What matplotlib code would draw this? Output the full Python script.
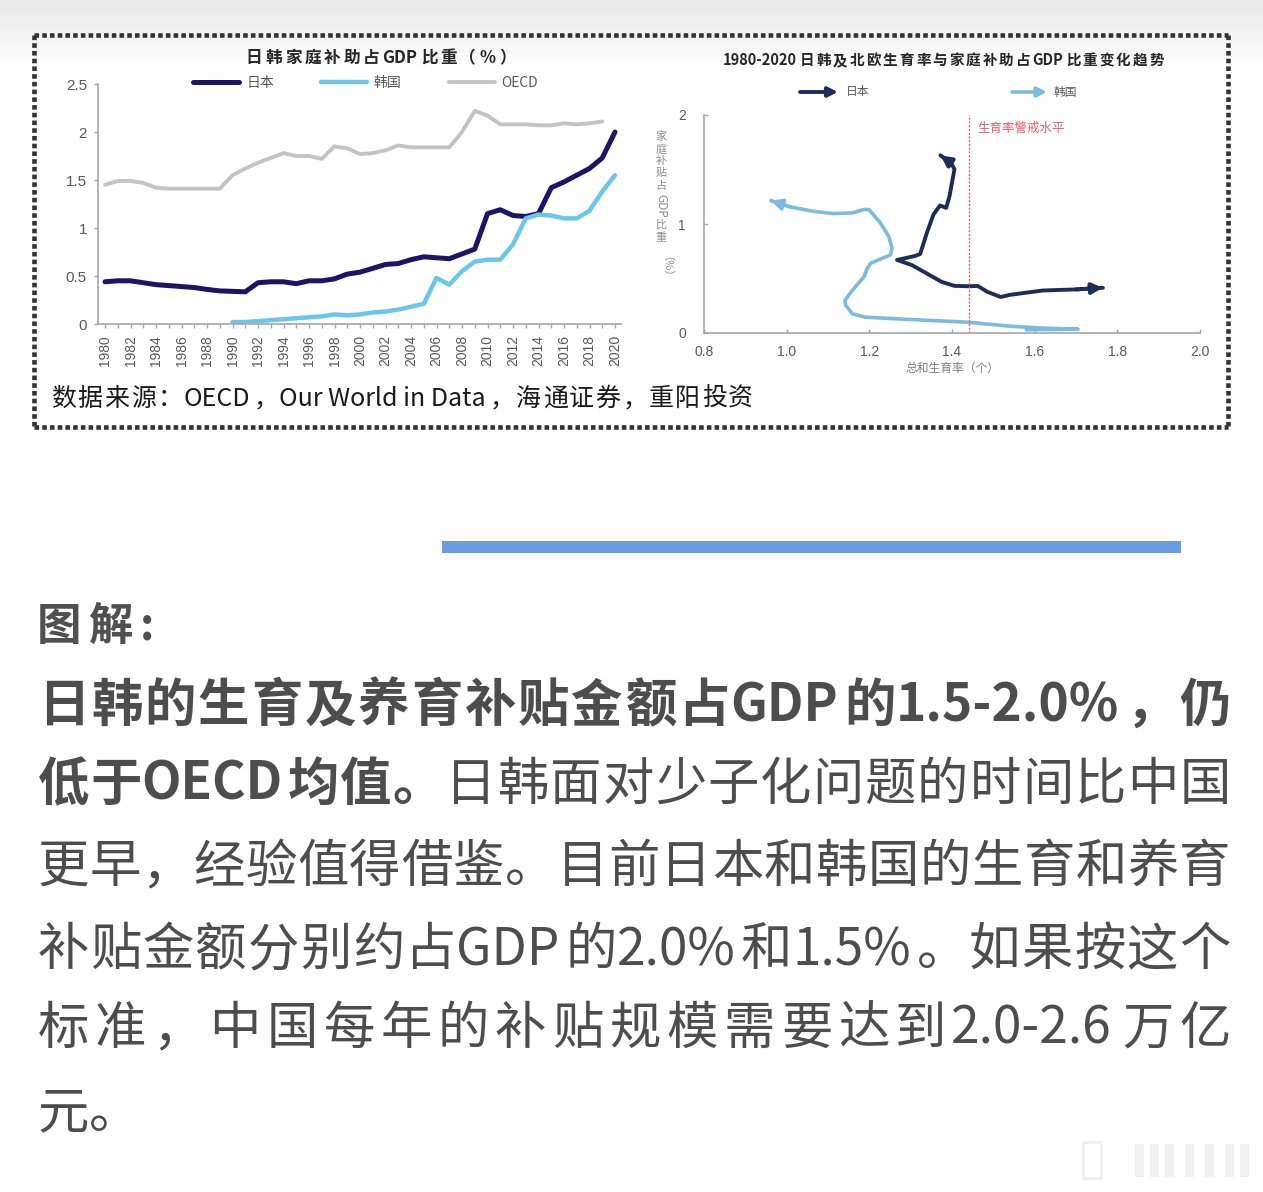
import numpy as np
import matplotlib
matplotlib.use('Agg')
import matplotlib.pyplot as plt
from matplotlib.lines import Line2D
from matplotlib.patches import Rectangle

plt.rcParams['font.family'] = ['Noto Sans CJK SC', 'DejaVu Sans']

W, H, DPI = 1263, 1192, 100

# ---------------- data: left chart (family subsidy, % of GDP) ----------------
years = list(range(1980, 2021))
japan = [0.44, 0.45, 0.45, 0.43, 0.41, 0.40, 0.39, 0.38, 0.36, 0.345,
         0.34, 0.335, 0.43, 0.44, 0.44, 0.42, 0.45, 0.45, 0.47, 0.52,
         0.54, 0.58, 0.62, 0.63, 0.67, 0.70, 0.69, 0.68, 0.73, 0.78,
         1.15, 1.19, 1.13, 1.12, 1.15, 1.42, 1.48, 1.55, 1.62, 1.73, 2.00]
korea_years = list(range(1990, 2021))
korea = [0.02, 0.02, 0.03, 0.04, 0.05, 0.06, 0.07, 0.08, 0.10, 0.09,
         0.10, 0.12, 0.13, 0.15, 0.18, 0.21, 0.48, 0.41, 0.55, 0.65,
         0.67, 0.67, 0.83, 1.10, 1.14, 1.13, 1.10, 1.10, 1.18, 1.38, 1.55]
oecd_years = list(range(1980, 2020))
oecd = [1.45, 1.49, 1.49, 1.47, 1.42, 1.41, 1.41, 1.41, 1.41, 1.41,
        1.55, 1.62, 1.68, 1.73, 1.78, 1.75, 1.75, 1.72, 1.85, 1.83,
        1.77, 1.78, 1.81, 1.86, 1.84, 1.84, 1.84, 1.84, 2.00, 2.22,
        2.17, 2.08, 2.08, 2.08, 2.07, 2.07, 2.09, 2.08, 2.09, 2.11]
left_yticks = [0, 0.5, 1, 1.5, 2, 2.5]
left_yticklabels = ['0', '0.5', '1', '1.5', '2', '2.5']
left_xticklabels = [str(y) for y in range(1980, 2021, 2)]

# ---------------- data: right chart (TFR vs subsidy path) ----------------
jp_tfr = [1.765, 1.70, 1.62, 1.54, 1.518, 1.486, 1.462, 1.442, 1.406, 1.375,
          1.339, 1.303, 1.267, 1.311, 1.323, 1.339, 1.355, 1.371, 1.386, 1.394,
          1.400, 1.406, 1.398, 1.372]
jp_sub = [0.415, 0.40, 0.39, 0.35, 0.33, 0.377, 0.432, 0.429, 0.432, 0.469,
          0.546, 0.623, 0.670, 0.707, 0.725, 0.917, 1.086, 1.170, 1.148, 1.256,
          1.380, 1.503, 1.559, 1.630]
kr_tfr = [1.58, 1.705, 1.62, 1.542, 1.438, 1.303, 1.191, 1.159, 1.143, 1.141,
          1.159, 1.187, 1.195, 1.203, 1.231, 1.251, 1.255, 1.247, 1.227, 1.199,
          1.187, 1.159, 1.112, 1.064, 1.008, 0.962]
kr_sub = [0.030, 0.035, 0.045, 0.062, 0.099, 0.123, 0.145, 0.176, 0.253, 0.300,
          0.392, 0.515, 0.593, 0.639, 0.685, 0.716, 0.778, 0.886, 1.009, 1.133,
          1.133, 1.102, 1.096, 1.117, 1.157, 1.215]
warn_level = 1.44
right_xticks = [0.8, 1.0, 1.2, 1.4, 1.6, 1.8, 2.0]
right_xticklabels = ['0.8', '1.0', '1.2', '1.4', '1.6', '1.8', '2.0']
right_yticks = [0, 1, 2]

# ---------------- texts ----------------
left_title = '日韩家庭补助占GDP比重（%）'
right_title = '1980-2020日韩及北欧生育率与家庭补助占GDP比重变化趋势'
source_text = '数据来源：OECD，Our World in Data，海通证券，重阳投资'
body_lines = [
    [('日韩的生育及养育补贴金额占GDP的1.5-2.0%，仍', 'bold')],
    [('低于OECD均值。', 'bold'), ('日韩面对少子化问题的时间比中国', 'normal')],
    [('更早，经验值得借鉴。目前日本和韩国的生育和养育', 'normal')],
    [('补贴金额分别约占GDP的2.0%和1.5%。如果按这个', 'normal')],
    [('标准，中国每年的补贴规模需要达到2.0-2.6万亿', 'normal')],
    [('元。', 'normal')],
]

fig = plt.figure(figsize=(W / DPI, H / DPI), dpi=DPI)
fig.patch.set_facecolor('white')

# overlay axes in pixel coordinates
ov = fig.add_axes([0, 0, 1, 1], zorder=0)
ov.axis('off')
ov.patch.set_visible(False)

# faint gray gradient at the top of the screenshot
grad = np.linspace(0, 1, 100).reshape(-1, 1)
ov.imshow(grad, extent=(0, W, 70, 0), cmap=matplotlib.colors.LinearSegmentedColormap.from_list(
    'g', ['#e9e9e9', '#ffffff']), aspect='auto', zorder=0)
ov.set_xlim(0, W)
ov.set_ylim(H, 0)

# dotted frame
sq = 4.6 / (DPI / 72)
for xs, ys in [((34, 1228), (35, 35)), ((34, 1228), (427, 427)),
               ((34, 34), (35, 427)), ((1228, 1228), (35, 427))]:
    ov.add_line(Line2D(xs, ys, color='#333333', lw=sq, dashes=(1, 0.68),
                       solid_capstyle='butt', dash_capstyle='butt'))

# blue separator bar
ov.add_patch(Rectangle((442, 541), 739, 12, color='#6b9be2', lw=0))

renderer = fig.canvas.get_renderer()

NARROW_WIDE = '（）'


def is_wide(ch):
    return ord(ch) > 0x2E7F


def tokenize(segs):
    out = []
    for text, weight in segs:
        buf = ''
        for ch in text:
            if is_wide(ch):
                if buf:
                    out.append((buf, weight, False))
                    buf = ''
                out.append((ch, weight, True))
            else:
                buf += ch
        if buf:
            out.append((buf, weight, False))
    return out


def place_line(segs, x0, x1, y, size, color, justify=True):
    toks = tokenize(segs)
    em = size * DPI / 72
    objs, widths, offs = [], [], []
    for t, w, wide in toks:
        o = ov.text(0, y, t, fontsize=size, fontweight=w, color=color,
                    ha='left', va='baseline', zorder=3)
        if wide and t not in NARROW_WIDE:
            wd = em
            of = 0.05 * em
        else:
            wd = o.get_window_extent(renderer).width + 0.06 * em
            of = 0.02 * em
        offs.append(of)
        objs.append(o)
        widths.append(wd)
    n = len(objs)
    gap = (x1 - x0 - sum(widths)) / (n - 1) if (justify and n > 1) else 0
    x = x0
    for o, wd, of in zip(objs, widths, offs):
        o.set_x(x + of)
        x += wd + gap


# ---------------- left chart ----------------
axL = fig.add_axes([98 / W, 1 - 324 / H, (621 - 98) / W, 240 / H], zorder=2)
axL.patch.set_visible(False)
lj, = axL.plot(years, japan, color='#1c1566', lw=3.6, label='日本', solid_capstyle='round')
lk, = axL.plot(korea_years, korea, color='#6cc6ec', lw=3.2, label='韩国', solid_capstyle='round')
lo, = axL.plot(oecd_years, oecd, color='#c3c3c3', lw=2.8, label='OECD', solid_capstyle='round')
axL.set_xlim(1979.45, 2020.47)
axL.set_ylim(0, 2.5)
axL.set_yticks(left_yticks)
axL.set_yticklabels(left_yticklabels)
axL.set_xticks(list(range(1980, 2021, 2)))
axL.set_xticklabels(left_xticklabels, rotation=90)
axL.set_xticks(years, minor=True)
for s in ['top', 'right']:
    axL.spines[s].set_visible(False)
for s in ['left', 'bottom']:
    axL.spines[s].set_color('#a6a6a6')
    axL.spines[s].set_linewidth(1.2)
axL.tick_params(axis='y', direction='out', length=3, width=1, color='#a6a6a6',
                labelsize=11, labelcolor='#595959', pad=5, labelfontfamily='Liberation Sans')
axL.tick_params(axis='x', which='both', direction='out', length=3, width=1, color='#a6a6a6',
                labelsize=10, labelcolor='#595959', pad=5, labelfontfamily='Liberation Sans')
leg = axL.legend(handles=[lj, lk, lo], ncol=3, loc='center', bbox_to_anchor=(0.512, 1.004),
                 frameon=False, fontsize=10, labelcolor='#595959', handlelength=3.3,
                 handletextpad=0.5, columnspacing=3.4, borderpad=0.1)

place_line([(left_title, 'bold')], 245, 517, 63, 12, '#262626')

# ---------------- right chart ----------------
axR = fig.add_axes([704 / W, 1 - 333 / H, 496 / W, 218 / H], zorder=2)
axR.patch.set_visible(False)
axR.plot(kr_tfr, kr_sub, color='#7cbbe0', lw=2.6, solid_joinstyle='round', solid_capstyle='round')
axR.plot(jp_tfr, jp_sub, color='#1f2d56', lw=2.8, solid_joinstyle='round', solid_capstyle='round')
axR.annotate('', xy=(kr_tfr[-1], kr_sub[-1]), xytext=(kr_tfr[-2], kr_sub[-2]),
             arrowprops=dict(arrowstyle='-|>', color='#7cbbe0', lw=2.6, mutation_scale=16,
                             shrinkA=0, shrinkB=0))
axR.annotate('', xy=(jp_tfr[-1], jp_sub[-1]), xytext=(jp_tfr[-2], jp_sub[-2]),
             arrowprops=dict(arrowstyle='-|>', color='#1f2d56', lw=2.8, mutation_scale=16,
                             shrinkA=0, shrinkB=0))
axR.annotate('', xy=(jp_tfr[0], jp_sub[0]), xytext=(jp_tfr[1], jp_sub[1]),
             arrowprops=dict(arrowstyle='-|>', color='#1f2d56', lw=2.8, mutation_scale=16,
                             shrinkA=0, shrinkB=0))
axR.axvline(warn_level, color='#e0606e', lw=1.0, dashes=(1.5, 1.2))
axR.text(warn_level + 0.022, 1.88, '生育率警戒水平', color='#e0606e', fontsize=9,
         ha='left', va='center')
axR.set_xlim(0.8, 2.0)
axR.set_ylim(0, 2)
axR.set_xticks(right_xticks)
axR.set_xticklabels(right_xticklabels)
axR.set_yticks(right_yticks)
for s in ['top', 'right']:
    axR.spines[s].set_visible(False)
for s in ['left', 'bottom']:
    axR.spines[s].set_color('#a6a6a6')
    axR.spines[s].set_linewidth(1.2)
axR.tick_params(axis='y', direction='in', length=3, width=1, color='#a6a6a6',
                labelsize=10, labelcolor='#595959', pad=13, labelfontfamily='Liberation Sans')
axR.tick_params(axis='x', direction='in', length=3, width=1, color='#a6a6a6',
                labelsize=10, labelcolor='#595959', pad=9, labelfontfamily='Liberation Sans')
axR.set_xlabel('总和生育率（个）', fontsize=8.5, color='#7f7f7f', labelpad=2)

place_line([(right_title, 'bold')], 722, 1163, 65, 10.5, '#262626')

# right legend (arrows)
ov.annotate('', xy=(838, 92), xytext=(800, 92),
            arrowprops=dict(arrowstyle='-|>', color='#1f2d56', lw=2.8, mutation_scale=14,
                            shrinkA=0, shrinkB=0), zorder=3)
ov.annotate('', xy=(1047, 92), xytext=(1012, 92),
            arrowprops=dict(arrowstyle='-|>', color='#7cbbe0', lw=2.6, mutation_scale=14,
                            shrinkA=0, shrinkB=0), zorder=3)
ov.text(846, 92, '日本', fontsize=8.5, color='#595959', ha='left', va='center', zorder=3)
ov.text(1053, 92, '韩国', fontsize=8.5, color='#595959', ha='left', va='center', zorder=3)

# right y label (vertical, stacked)
ylab_col = '#8c8c8c'
for ch, yy in zip('家庭补贴占', [137, 149, 161, 173, 186]):
    ov.text(661, yy, ch, fontsize=8, color=ylab_col, ha='center', va='center', zorder=3)
ov.text(661, 206, 'GDP', fontsize=8.5, color=ylab_col, ha='center', va='center', rotation=270, zorder=3)
for ch, yy in zip('比重', [225, 238]):
    ov.text(661, yy, ch, fontsize=8, color=ylab_col, ha='center', va='center', zorder=3)
ov.text(661, 272, '（%）', fontsize=8, color=ylab_col, ha='center', va='center', rotation=270, zorder=3)

# source line
place_line([(source_text, 'normal')], 50, 752, 406, 18, '#1a1a1a')

# ---------------- body text ----------------
place_line([('图解', 'bold')], 35, 130, 640, 32, '#505050')
ov.text(140, 640, ':', fontsize=32, fontweight='bold', color='#505050', ha='left', va='baseline')

baselines = [721, 800, 882, 965, 1044, 1128]
for segs, yb in zip(body_lines, baselines):
    place_line(segs, 35, 1228, yb, 37, '#4d4d4d', justify=(segs is not body_lines[-1]))

# faint decoration bottom-right
ov.add_patch(Rectangle((1083, 1142), 18, 36, fill=False, ec='#efefef', lw=2))
for xx in [1135, 1150, 1165, 1185, 1205, 1225, 1240]:
    ov.add_patch(Rectangle((xx, 1144), 9, 33, color='#f1f1f1', lw=0))

fig.savefig('out.png', dpi=DPI, facecolor='white')
